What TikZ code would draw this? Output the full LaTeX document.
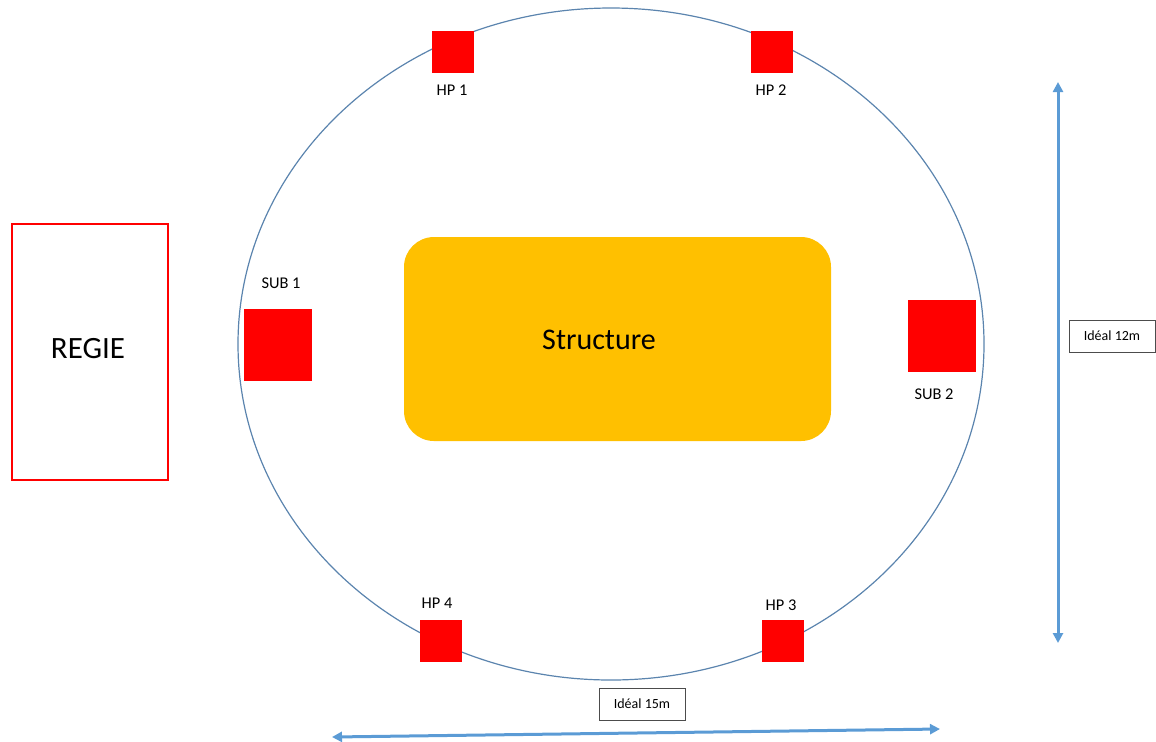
\documentclass[tikz,border=0pt]{standalone}
\usepackage{fontspec}
\setmainfont{Carlito}
\usepackage{tikz}
\usetikzlibrary{arrows.meta, positioning}
\definecolor{hpred}{HTML}{FF0000}
\definecolor{structorange}{HTML}{FFC000}
\definecolor{ringblue}{HTML}{5B84AE}
\definecolor{dimblue}{HTML}{5B9BD5}
\begin{document}
\begin{tikzpicture}[x=0.5pt,y=-0.5pt,>={Triangle[length=5pt,width=5pt]}]
                \tikzset{hp/.style={fill=hpred, draw=none, minimum size=21pt, inner sep=0pt},
                         sub/.style={fill=hpred, draw=none, minimum width=34pt, minimum height=36pt, inner sep=0pt},
                         lbl/.style={font=\fontsize{8.2}{9}\selectfont, inner sep=0pt},
                         dimbox/.style={draw=black!70, thin, font=\fontsize{7}{8}\selectfont, minimum width=43pt, minimum height=16pt, inner sep=0pt},
                         dim/.style={<->, dimblue, line width=1.5pt}}
                \useasboundingbox (0,0) rectangle (1156,741);
                \draw[ringblue, line width=0.6pt] (611,344) ellipse [x radius=373, y radius=336];
                \node[draw=hpred, line width=1pt, minimum width=78pt, minimum height=128pt] (regie) at (90,351.5) {};
                \node[font=\fontsize{15.5}{17}\selectfont] (regiel) at (88,349) {REGIE};
                \node[fill=structorange, rounded corners=15pt, minimum width=213.5pt, minimum height=102pt] (structure) at (617.5,339) {};
                \node[font=\fontsize{15}{17}\selectfont] (structl) at (599,340) {Structure};
                \node[hp] (hp1) at (453,52) {};
                \node[lbl] (hp1l) at (452,90) {HP 1};
                \node[hp] (hp2) at (772,52) {};
                \node[lbl] (hp2l) at (771,90) {HP 2};
                \node[sub] (sub1) at (278,345) {};
                \node[lbl] (sub1l) at (281,283) {SUB 1};
                \node[sub] (sub2) at (942,336) {};
                \node[lbl] (sub2l) at (934,394) {SUB 2};
                \node[hp] (hp4) at (441,641) {};
                \node[lbl] (hp4l) at (437,603) {HP 4};
                \node[hp] (hp3) at (783,641) {};
                \node[lbl] (hp3l) at (781,605) {HP 3};
                \coordinate (vtop) at (1058,82);
                \coordinate (vbot) at (1058,643);
                \draw[dim] (vtop) -- (vbot);
                \node[dimbox] (ideal12) at (1112,336) {Idéal 12m};
                \coordinate (hleft) at (332,737);
                \coordinate (hright) at (940,729);
                \draw[dim] (hleft) -- (hright);
                \node[dimbox] (ideal15) at (642,704) {Idéal 15m};
            \end{tikzpicture}
\end{document}
